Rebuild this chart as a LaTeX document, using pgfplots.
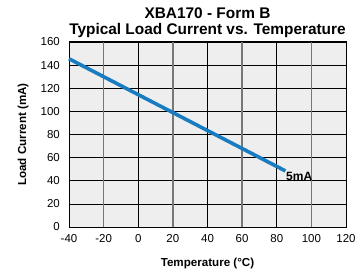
\documentclass[border=0pt]{standalone}
\usepackage{pgfplots}
\pgfplotsset{compat=1.18}
\usepackage{fontspec}
\setmainfont{Liberation Sans}
\definecolor{bg}{HTML}{EEEEEE}
\definecolor{ln}{HTML}{1A7CC0}
\definecolor{gl}{HTML}{777777}
\begin{document}
\begin{tikzpicture}
\useasboundingbox (-69pt,-49pt) rectangle (292pt,227pt);
\begin{axis}[
  at={(0,0)}, anchor=south west,
  scale only axis, width=277pt, height=185pt,
  xmin=-40, xmax=120, ymin=0, ymax=160,
  xtick={-40,-20,...,120}, ytick={0,20,...,160},
  /pgf/number format/assume math mode=true,
  tick label style={font=\fontsize{11.5}{12}\selectfont},
  xticklabel style={inner sep=0pt, anchor=center, yshift=-12pt},
  yticklabel style={inner sep=0pt, anchor=east, xshift=-9pt},
  major tick length=0pt,
  tick style={draw=none},
  axis background/.style={fill=bg},
  axis line style={black, line width=1pt},
  ymajorgrids, grid style={black, line width=0.7pt},
  title style={font=\bfseries\fontsize{15.4}{16}\selectfont, align=center, inner sep=0pt, at={(axis description cs:0.5,1)}, anchor=south, yshift=-2pt},
  title={XBA170 - Form B\\Typical Load Current vs. Temperature},
  xlabel={Temperature (\textdegree C)},
  ylabel={Load Current (mA)},
  label style={font=\bfseries\fontsize{11.6}{13}\selectfont, inner sep=0pt},
  xlabel style={at={(axis description cs:0.5,-0.195)}, anchor=center},
  ylabel style={at={(axis description cs:-0.166,0.5)}, anchor=center},
  clip=false,
]
\addplot[gl, line width=1.6pt, forget plot] coordinates {(-20,0) (-20,160)};
\addplot[gl, line width=1.6pt, forget plot] coordinates {(20,0) (20,160)};
\addplot[gl, line width=1.6pt, forget plot] coordinates {(60,0) (60,160)};
\addplot[gl, line width=1.6pt, forget plot] coordinates {(100,0) (100,160)};
\addplot[black, line width=0.7pt, forget plot] coordinates {(0,0) (0,160)};
\addplot[black, line width=0.7pt, forget plot] coordinates {(40,0) (40,160)};
\addplot[black, line width=0.7pt, forget plot] coordinates {(80,0) (80,160)};
\addplot[ln, line width=3.6pt] coordinates {(-40,145.5) (85,48.5)}
  node[pos=1, anchor=north west, inner sep=0pt, xshift=-1pt, yshift=0pt, font=\bfseries\fontsize{12}{13}\selectfont, text=black] {5mA};
\end{axis}
\end{tikzpicture}
\end{document}
